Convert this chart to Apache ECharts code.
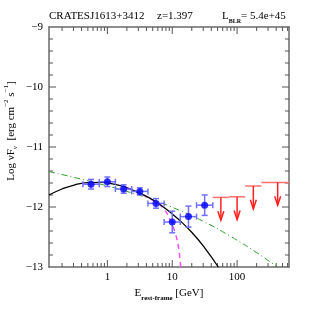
<!DOCTYPE html>
<html><head><meta charset="utf-8">
<script src="https://cdn.jsdelivr.net/npm/echarts@6/dist/echarts.min.js"></script>
<style>html,body{margin:0;padding:0;background:#fff}#c{width:316px;height:316px}</style>
</head><body><div id="c"></div>
<script>
// ---- data (energies in GeV, fluxes as log10 nuFnu) ----
const ptE     = [0.56, 1.0, 1.78, 3.16, 5.62, 10.0, 17.8, 31.6];
const ptElo   = [0.42, 0.75, 1.33, 2.37, 4.22, 7.5, 13.3, 23.7];
const ptEhi   = [0.75, 1.33, 2.37, 4.22, 7.5, 13.3, 23.7, 42.2];
const ptY     = [-11.62, -11.58, -11.70, -11.74, -11.94, -12.25, -12.16, -11.97];
const ptYerr  = [0.08, 0.08, 0.07, 0.06, 0.08, 0.18, 0.175, 0.17];
const ulE     = [56.2, 100, 178, 422];
const ulElo   = [42.2, 75, 133, 237];
const ulEhi   = [75, 133, 237, 750];
const ulY     = [-11.84, -11.83, -11.65, -11.59];
const ulLen   = 0.38;
// model curves (log10 E, log10 nuFnu)
const blackLogE = [-0.9, -0.7, -0.5, -0.3, -0.1, 0.1, 0.3, 0.5, 0.7, 0.9, 1.1, 1.3, 1.5, 1.71];
const blackY    = [-11.80, -11.70, -11.63, -11.595, -11.59, -11.62, -11.68, -11.77, -11.88, -12.03, -12.21, -12.42, -12.68, -13.0];
const greenLogE = [-0.9, -0.5, -0.1, 0.3, 0.7, 1.1, 1.5, 1.9, 2.3, 2.62];
const greenY    = [-11.41, -11.51, -11.62, -11.74, -11.88, -12.05, -12.25, -12.49, -12.76, -13.0];
const magLogE   = [0.3, 0.5, 0.7, 0.86, 0.96, 1.05, 1.1, 1.13];
const magY      = [-11.68, -11.77, -11.89, -12.02, -12.2, -12.45, -12.7, -13.0];
// axes ticks
const xMajorTicks = [1, 10, 100];
const xMinorTicks = [0.2,0.3,0.4,0.5,0.6,0.7,0.8,0.9,2,3,4,5,6,7,8,9,20,30,40,50,60,70,80,90,200,300,400,500,600];
const yTicks = [-13, -12, -11, -10, -9];
const yMinorTicks = [-12.8,-12.6,-12.4,-12.2,-11.8,-11.6,-11.4,-11.2,-10.8,-10.6,-10.4,-10.2,-9.8,-9.6,-9.4,-9.2];

const L = Math.log10;
const FONT = 'Liberation Serif';
const AX = '#6a6a6a';
const TK = '#555';
const XMIN = -0.9, XMAX = 2.8, YMIN = yTicks[0], YMAX = yTicks[yTicks.length-1];

const chart = echarts.init(document.getElementById('c'), null, {renderer:'canvas'});
const majorX = xMajorTicks.map(L), minorX = xMinorTicks.map(L);
function xAx(pos, labels){
  return {
    type:'value', position:pos, min:XMIN, max:XMAX, gridIndex:0,
    axisLine:{show:true, onZero:false, lineStyle:{color:AX, width:1.5}},
    splitLine:{show:false},
    axisTick:{show:false},
    axisLabel:{show:labels, customValues: majorX, margin:5, color:'#000', fontFamily:FONT, fontSize:11,
      formatter:v=>String(Math.round(Math.pow(10,v)))},
    name: labels ? '{m|E}{sub|rest-frame}{m| [GeV]}' : '',
    nameLocation:'middle', nameGap:18,
    nameTextStyle:{fontFamily:FONT, fontSize:11, color:'#000', rich:{
      m:{fontFamily:FONT, fontSize:11, lineHeight:16, verticalAlign:'middle'},
      sub:{fontFamily:FONT, fontSize:7, fontWeight:'bold', lineHeight:8, verticalAlign:'bottom'}}}
  };
}
function yAx(pos, labels){
  return {
    type:'value', position:pos, min:YMIN, max:YMAX, interval:1,
    axisLine:{show:true, onZero:false, lineStyle:{color:AX, width:1.5}},
    splitLine:{show:false},
    axisTick:{show:false},
    axisLabel:{show:labels, margin:6, color:'#000', fontFamily:FONT, fontSize:11,
      formatter:v=> (v<0?'\u2212':'')+Math.abs(v)}
  };
}

const errData = ptE.map((e,i)=>[L(e), ptY[i], L(ptElo[i]), L(ptEhi[i]), ptY[i]-ptYerr[i], ptY[i]+ptYerr[i]]);
const ulData = ulE.map((e,i)=>[L(e), ulY[i], L(ulElo[i]), L(ulEhi[i]), ulY[i]-ulLen]);
const xTickData = majorX.map(v=>[v, YMIN, 7]).concat(minorX.map(v=>[v, YMIN, 4]));
const yTickData = yTicks.slice(1,-1).map(v=>[XMIN, v, 7]).concat(yMinorTicks.map(v=>[XMIN, v, 4]));

function ln(a,b,style){ return {type:'line', shape:{x1:a[0],y1:a[1],x2:b[0],y2:b[1]}, style:style}; }
const tickStyle = {stroke:TK, lineWidth:1};

const option = {
  animation:false,
  backgroundColor:'#fff',
  grid:{left:49, right:27, top:27, bottom:49, containLabel:false, outerBoundsMode:'none'},
  xAxis:[xAx('bottom',true), xAx('top',false)],
  yAxis:[yAx('left',true), yAx('right',false)],
  graphic:[
    {type:'text', left:49, top:11, style:{text:'CRATESJ1613+3412', font:'11px '+FONT, fill:'#000'}},
    {type:'text', left:157, top:11, style:{text:'z=1.397', font:'11px '+FONT, fill:'#000'}},
    {type:'text', left:222, top:11, style:{text:'{m|L}{sub|BLR}{m|= 5.4e+45}', fill:'#000',
      rich:{m:{fontFamily:FONT, fontSize:11, lineHeight:13, verticalAlign:'top'},
            sub:{fontFamily:FONT, fontSize:6, fontWeight:'bold', lineHeight:6, verticalAlign:'bottom'}}}},
    {type:'text', x:11, y:131, rotation:Math.PI/2,
     style:{text:'{m|Log \u03bdF}{sub|\u03bd}{m|  [erg cm}{sup|\u22122}{m| s}{sup|\u22121}{m|]}', fill:'#000',
      align:'center', verticalAlign:'middle',
      rich:{m:{fontFamily:FONT, fontSize:11, lineHeight:16, verticalAlign:'middle'},
            sub:{fontFamily:FONT, fontSize:7, lineHeight:8, verticalAlign:'bottom'},
            sup:{fontFamily:FONT, fontSize:7, lineHeight:8, verticalAlign:'top'}}}}
  ],
  series:[
    // axis ticks on all four sides, placed through the axes' scales
    {type:'custom', data:xTickData, clip:false, z:1, silent:true,
     renderItem:function(params, api){
       const x=api.value(0), len=api.value(2);
       const b=api.coord([x,YMIN]), t=api.coord([x,YMAX]);
       return {type:'group', children:[ln(b,[b[0],b[1]-len],tickStyle), ln(t,[t[0],t[1]+len],tickStyle)]};
     }},
    {type:'custom', data:yTickData, clip:false, z:1, silent:true,
     renderItem:function(params, api){
       const y=api.value(1), len=api.value(2);
       const l=api.coord([XMIN,y]), r=api.coord([XMAX,y]);
       return {type:'group', children:[ln(l,[l[0]+len,l[1]],tickStyle), ln(r,[r[0]-len,r[1]],tickStyle)]};
     }},
    {type:'line', data:greenLogE.map((x,i)=>[x,greenY[i]]), smooth:true, showSymbol:false, clip:true,
     lineStyle:{color:'#2e9e2e', width:1, type:[6,3,1,3]}, z:2},
    {type:'line', data:magLogE.map((x,i)=>[x,magY[i]]), smooth:true, showSymbol:false, clip:true,
     lineStyle:{color:'#ff4cff', width:1.5, type:[5,4]}, z:2},
    {type:'line', data:blackLogE.map((x,i)=>[x,blackY[i]]), smooth:true, showSymbol:false, clip:true,
     lineStyle:{color:'#000', width:1.3}, z:3},
    {type:'custom', data:errData, clip:true, z:4,
     renderItem:function(params, api){
       const xc=api.value(0), y=api.value(1), xl=api.value(2), xh=api.value(3), yl=api.value(4), yh=api.value(5);
       const pl=api.coord([xl,y]), ph=api.coord([xh,y]), pb=api.coord([xc,yl]), pt=api.coord([xc,yh]);
       const s={stroke:'#7070ff', lineWidth:1.5};
       const c=3;
       return {type:'group', children:[
         ln(pl,ph,s), ln(pb,pt,s),
         ln([pl[0],pl[1]-c],[pl[0],pl[1]+c],s), ln([ph[0],ph[1]-c],[ph[0],ph[1]+c],s),
         ln([pb[0]-c,pb[1]],[pb[0]+c,pb[1]],s), ln([pt[0]-c,pt[1]],[pt[0]+c,pt[1]],s)
       ]};
     }},
    {type:'scatter', data:ptE.map((e,i)=>[L(e), ptY[i]]), symbol:'circle', symbolSize:7,
     itemStyle:{color:'#0000ff'}, z:5},
    {type:'custom', data:ulData, clip:true, z:4,
     renderItem:function(params, api){
       const xc=api.value(0), y=api.value(1), xl=api.value(2), xh=api.value(3), yt=api.value(4);
       const pl=api.coord([xl,y]), ph=api.coord([xh,y]), pc=api.coord([xc,y]), pt=api.coord([xc,yt]);
       const sb={stroke:'#ff7070', lineWidth:1.5};
       const sa={stroke:'#ff2020', lineWidth:1.5, fill:null};
       return {type:'group', children:[
         ln(pl,ph,sb), ln(pc,pt,sa),
         {type:'polyline', shape:{points:[[pt[0]-3,pt[1]-9],[pt[0],pt[1]],[pt[0]+3,pt[1]-9]]}, style:sa}
       ]};
     }}
  ]
};
chart.setOption(option);
</script>
</body></html>
